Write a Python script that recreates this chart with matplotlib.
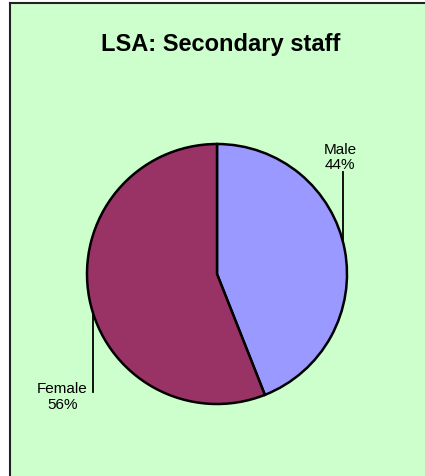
import numpy as np
import matplotlib.pyplot as plt
from matplotlib.patches import Rectangle
from matplotlib.lines import Line2D

labels = ['Male', 'Female']
shares = [44, 56]
colors = ['#9999FF', '#993366']

W, H = 425, 477
fig = plt.figure(figsize=(W / 100, H / 100), dpi=100, facecolor='white')
plt.rcParams['font.family'] = ['Liberation Sans', 'DejaVu Sans']

# chart area: green panel with a dark edge on the left and top
fig.patches.append(Rectangle((10 / W, 0), 1, 1 - 4 / H, transform=fig.transFigure,
                             facecolor='#CCFFCC', edgecolor='none', zorder=-2))
fig.lines.append(Line2D([10 / W, 10 / W], [0, 1 - 4 / H], transform=fig.transFigure,
                        color='#222222', lw=1.5, zorder=-1))
fig.lines.append(Line2D([10 / W, 1.01], [1 - 4 / H, 1 - 4 / H], transform=fig.transFigure,
                        color='#222222', lw=1.5, zorder=-1))

fig.text(221 / W, 1 - 44 / H, 'LSA: Secondary staff', ha='center', va='center',
         fontsize=17, fontweight='bold')

# pie: centre (217, 275) px, radius 130 px
cx, cy, r = 217, 275, 130
ax = fig.add_axes([(cx - r) / W, (H - cy - r) / H, 2 * r / W, 2 * r / H])
ax.set_zorder(2)
ax.set_facecolor('none')
ax.pie(shares, colors=colors, startangle=90, counterclock=False, radius=1,
       wedgeprops=dict(edgecolor='black', linewidth=1.8))
ax.set_xlim(-1, 1)
ax.set_ylim(-1, 1)
ax.set_aspect('equal')
ax.axis('off')

# labels with vertical leader lines down/up to the rim
label_pos = [(0.945, 0.905), (-1.19, -0.94)]
line_x = [0.97, -0.954]
line_end = [0.785, -0.91]
for lab, val, (tx, ty), lx, le in zip(labels, shares, label_pos, line_x, line_end):
    ax.text(tx, ty, f'{lab}\n{val}%', ha='center', va='center', fontsize=11,
            linespacing=1.15)
    rim = np.sqrt(1 - lx ** 2) * np.sign(le)
    ax.plot([lx, lx], [rim, le], color='black', lw=1.3, clip_on=False)

fig.savefig('out.png', dpi=100, facecolor=fig.get_facecolor())
